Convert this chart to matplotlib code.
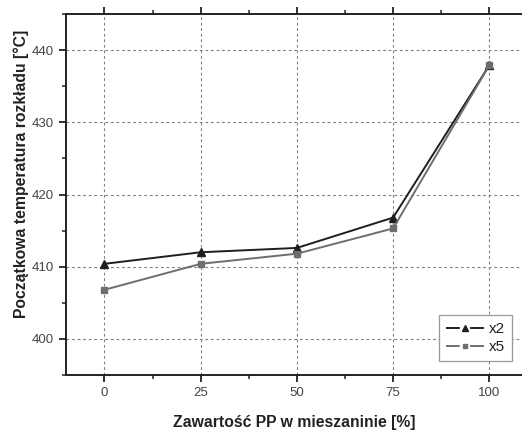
import matplotlib
matplotlib.use("Agg")
import matplotlib.pyplot as plt
from matplotlib.ticker import MultipleLocator
from matplotlib.lines import Line2D

plt.rcParams['font.family'] = ['Liberation Sans', 'DejaVu Sans']

pp_content = [0, 25, 50, 75, 100]
temp_x2 = [410.4, 412.0, 412.6, 416.8, 437.9]
temp_x5 = [406.8, 410.4, 411.8, 415.3, 437.9]
x_ticks = [0, 25, 50, 75, 100]
y_ticks = [400, 410, 420, 430, 440]
series_labels = ['x2', 'x5']

c2 = '#1e1e1e'
c5 = '#6e6e6e'

fig = plt.figure(figsize=(5.22, 4.30), dpi=100)
ax = fig.add_axes([66/522, 55/430, 456.4/522, 361/430])

ax.plot(pp_content, temp_x2, color=c2, lw=1.4, marker='^', ms=5.5, zorder=3)
ax.plot(pp_content, temp_x5, color=c5, lw=1.4, marker='s', ms=3.8, zorder=3)

ax.set_xlim(-10, 108.6)
ax.set_ylim(395, 445)
ax.set_xticks(x_ticks)
ax.set_yticks(y_ticks)
ax.xaxis.set_minor_locator(MultipleLocator(12.5))
ax.yaxis.set_minor_locator(MultipleLocator(5))

ax.grid(True, which='major', color='#808080', ls=(0, (2.5, 2.5)), lw=0.8)
ax.set_axisbelow(True)

ax.spines['right'].set_visible(False)
for s in ['left', 'top', 'bottom']:
    ax.spines[s].set_linewidth(1.4)
    ax.spines[s].set_color('#222222')

ax.tick_params(axis='both', which='major', direction='out', length=5, width=1.3,
               labelsize=9.5, labelcolor='#444444', color='#222222', pad=4)
ax.tick_params(axis='both', which='minor', direction='out', length=3, width=1.1,
               color='#222222')
ax.tick_params(axis='x', which='both', top=True, labeltop=False)
ax.tick_params(axis='y', which='both', right=False)

ax.set_xlabel('Zawartość PP w mieszaninie [%]', fontsize=11.3, fontweight='bold',
              color='#222222', labelpad=11)
ax.set_ylabel('Początkowa temperatura rozkładu [°C]', fontsize=11.3,
              fontweight='bold', color='#222222')
ax.yaxis.set_label_coords(-0.082, 0.557)

handles = [
    Line2D([], [], color=c2, lw=1.4, ls=(0, (7.1, 5.3)), marker='^', ms=4.5),
    Line2D([], [], color=c5, lw=1.4, ls=(0, (7.1, 5.3)), marker='s', ms=3.2),
]
leg = ax.legend(handles, series_labels, loc='lower right',
                bbox_to_anchor=(512/522, (430-361)/430),
                bbox_transform=fig.transFigure, fontsize=11, frameon=True,
                fancybox=False, edgecolor='#999999', framealpha=1,
                handlelength=2.5, handletextpad=0.33, borderpad=0.45,
                labelspacing=0.25, borderaxespad=0)
leg.get_frame().set_linewidth(0.9)
for t in leg.get_texts():
    t.set_color('#222222')

fig.savefig('out.png', dpi=100)
